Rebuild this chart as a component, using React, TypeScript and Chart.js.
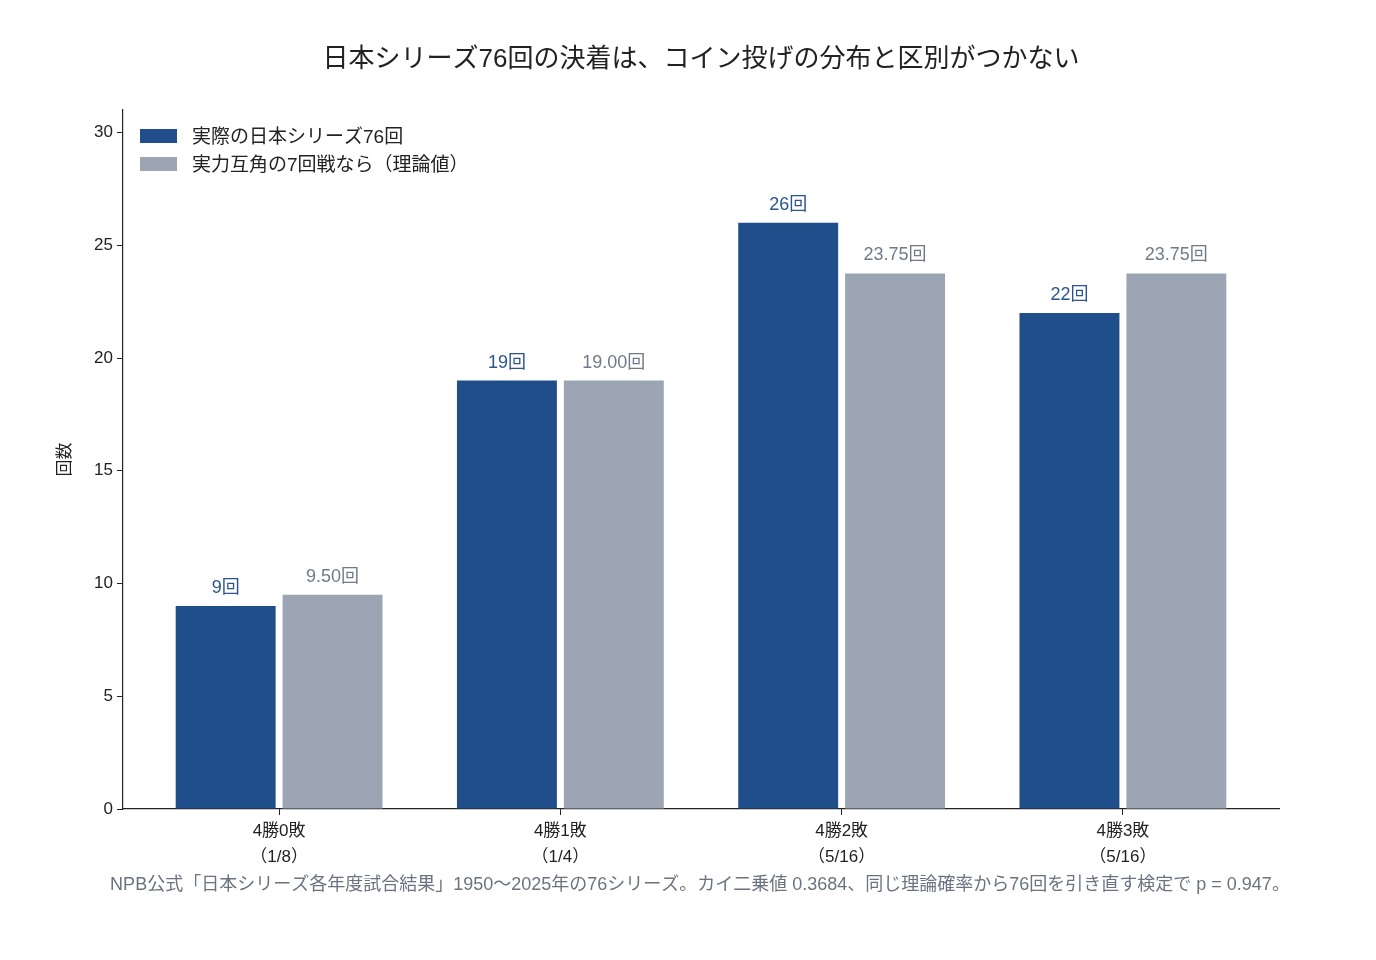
import React, { useEffect, useRef } from 'react'
import { Chart, registerables } from 'chart.js'

Chart.register(...registerables)

// 決着パターン（x軸）
const categories = ['4勝0敗', '4勝1敗', '4勝2敗', '4勝3敗']
const probLabels = ['（1/8）', '（1/4）', '（5/16）', '（5/16）']
// 実際の回数と理論値
const actualCounts = [9, 19, 26, 22]
const expectedCounts = [9.5, 19.0, 23.75, 23.75]
const yTicks = [0, 5, 10, 15, 20, 25, 30]

const titleText = '日本シリーズ76回の決着は、コイン投げの分布と区別がつかない'
const footerText =
  'NPB公式「日本シリーズ各年度試合結果」1950〜2025年の76シリーズ。カイ二乗値 0.3684、同じ理論確率から76回を引き直す検定で p = 0.947。'
const seriesNames = ['実際の日本シリーズ76回', '実力互角の7回戦なら（理論値）']

const BLUE = '#1f4e8a'
const GRAY = '#9ca5b3'
const FONT = '"Liberation Sans", "Noto Sans CJK JP", sans-serif'

const overlay = {
  id: 'overlay',
  afterDatasetsDraw(chart: any) {
    const { ctx, chartArea } = chart
    ctx.save()
    // 棒の上の値
    ctx.font = `18px ${FONT}`
    ctx.textAlign = 'center'
    ctx.textBaseline = 'bottom'
    chart.data.datasets.forEach((ds: any, di: number) => {
      const meta = chart.getDatasetMeta(di)
      ctx.fillStyle = di === 0 ? '#2b5591' : '#707a88'
      meta.data.forEach((bar: any, i: number) => {
        const v = ds.data[i].y
        const txt = di === 0 ? `${v}回` : `${v.toFixed(2)}回`
        ctx.fillText(txt, bar.x, bar.y - 9)
      })
    })
    // 凡例
    ctx.textAlign = 'left'
    ctx.textBaseline = 'middle'
    ctx.font = `19px ${FONT}`
    seriesNames.forEach((name, i) => {
      const y = chartArea.top + 26 + i * 28
      ctx.fillStyle = i === 0 ? BLUE : GRAY
      ctx.fillRect(chartArea.left + 17, y - 7, 37, 14)
      ctx.fillStyle = '#222'
      ctx.fillText(name, chartArea.left + 69, y + 2)
    })
    // タイトル
    const cx = (chartArea.left + chartArea.right) / 2
    ctx.textAlign = 'center'
    ctx.fillStyle = '#222'
    ctx.font = `26px ${FONT}`
    ctx.fillText(titleText, cx, 60)
    // 注記
    ctx.fillStyle = '#6b7380'
    ctx.font = `18px ${FONT}`
    ctx.fillText(footerText, cx - 1, 885)
    // y軸タイトル
    ctx.save()
    ctx.translate(65, (chartArea.top + chartArea.bottom) / 2)
    ctx.rotate(-Math.PI / 2)
    ctx.fillStyle = '#222'
    ctx.font = `17px ${FONT}`
    ctx.fillText('回数', 0, 0)
    ctx.restore()
    ctx.restore()
  },
}

const App: React.FC = () => {
  const chartRef = useRef<HTMLCanvasElement | null>(null)

  useEffect(() => {
    if (!chartRef.current) return
    const ctx = chartRef.current.getContext('2d')
    if (!ctx) return

    const myChart = new Chart(ctx, {
      type: 'bar',
      data: {
        datasets: [
          {
            label: seriesNames[0],
            data: actualCounts.map((v, i) => ({ x: i, y: v })),
            backgroundColor: BLUE,
            categoryPercentage: 0.76,
            barPercentage: 0.935,
          },
          {
            label: seriesNames[1],
            data: expectedCounts.map((v, i) => ({ x: i, y: v })),
            backgroundColor: GRAY,
            categoryPercentage: 0.76,
            barPercentage: 0.935,
          },
        ],
      },
      options: {
        animation: false,
        responsive: false,
        layout: { padding: { top: 110, right: 97, left: 0, bottom: 0 } },
        plugins: {
          legend: { display: false },
          title: { display: false },
          tooltip: { enabled: false },
        },
        scales: {
          x: {
            type: 'linear',
            min: -0.555,
            max: 3.555,
            offset: false,
            afterBuildTicks: (s: any) => {
              s.ticks = categories.map((_, i) => ({ value: i }))
            },
            afterFit: (s: any) => {
              s.height = 151
            },
            grid: { offset: false, drawOnChartArea: false, tickLength: 6, tickColor: '#222' },
            border: { color: '#222', width: 1.2 },
            ticks: {
              color: '#222',
              font: { family: FONT, size: 17, lineHeight: 1.5 },
              padding: 4,
              maxRotation: 0,
              autoSkip: false,
              callback: (v: any) => [categories[v], probLabels[v]],
            },
          },
          y: {
            min: 0,
            max: 31,
            afterBuildTicks: (s: any) => {
              s.ticks = yTicks.map((v) => ({ value: v }))
            },
            afterFit: (s: any) => {
              s.width = 123
            },
            grid: { drawOnChartArea: false, tickLength: 6, tickColor: '#222' },
            border: { color: '#222', width: 1.2 },
            ticks: {
              color: '#222',
              font: { family: FONT, size: 17 },
              padding: 4,
            },
          },
        },
      },
      plugins: [overlay],
    } as any)

    return () => {
      myChart.destroy()
    }
  }, [])

  return (
    <div style={{ position: 'absolute', left: 0, top: 0, width: '1376px', height: '960px', background: '#fff' }}>
      <canvas ref={chartRef} width={1376} height={960} style={{ width: '1376px', height: '960px' }} />
    </div>
  )
}

export default App
